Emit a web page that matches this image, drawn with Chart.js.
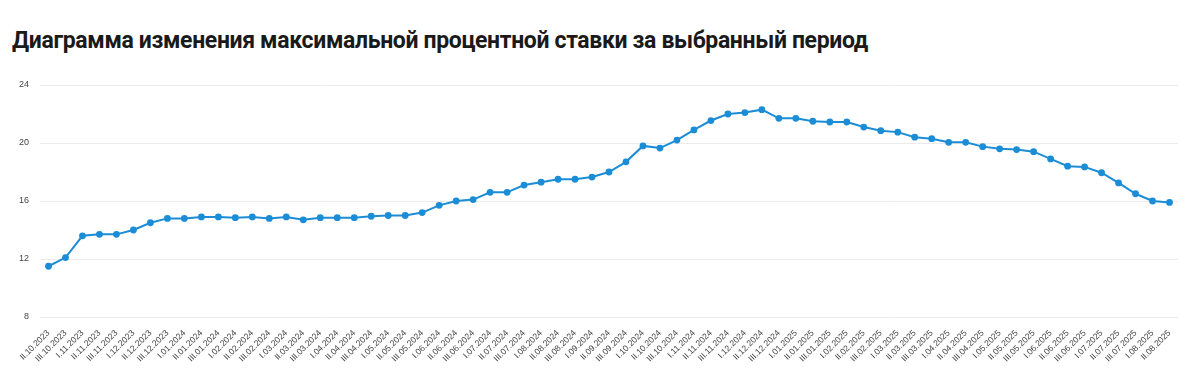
<!DOCTYPE html>
<html>
<head>
<meta charset="utf-8">
<script src="https://cdn.jsdelivr.net/npm/chart.js@4"></script>
<style>
  html, body { margin: 0; padding: 0; background: #fff; }
  body { width: 1200px; height: 377px; position: relative; overflow: hidden; }
  #title { position: absolute; left: 12px; top: 27px; font-family: Roboto, "Liberation Sans", sans-serif; font-weight: 700; font-size: 23px; color: #1a1a1a; white-space: nowrap; letter-spacing: -0.35px; }
  #wrap { position: absolute; left: 0; top: 0; width: 1200px; height: 377px; }
</style>
</head>
<body>
<div id="title">Диаграмма изменения максимальной процентной ставки за выбранный период</div>
<div id="wrap"><canvas id="c" width="1200" height="377"></canvas></div>
<script>
const categories = [
  "II.10.2023","III.10.2023","I.11.2023","II.11.2023","III.11.2023","I.12.2023","II.12.2023","III.12.2023",
  "I.01.2024","II.01.2024","III.01.2024","I.02.2024","II.02.2024","III.02.2024","I.03.2024","II.03.2024","III.03.2024",
  "I.04.2024","II.04.2024","III.04.2024","I.05.2024","II.05.2024","III.05.2024","I.06.2024","II.06.2024","III.06.2024",
  "I.07.2024","II.07.2024","III.07.2024","I.08.2024","II.08.2024","III.08.2024","I.09.2024","II.09.2024","III.09.2024",
  "I.10.2024","II.10.2024","III.10.2024","I.11.2024","II.11.2024","III.11.2024","I.12.2024","II.12.2024","III.12.2024",
  "I.01.2025","II.01.2025","III.01.2025","I.02.2025","II.02.2025","III.02.2025","I.03.2025","II.03.2025","III.03.2025",
  "I.04.2025","II.04.2025","III.04.2025","I.05.2025","II.05.2025","III.05.2025","I.06.2025","II.06.2025","III.06.2025",
  "I.07.2025","II.07.2025","III.07.2025","I.08.2025","II.08.2025"
];
const maxRate = [
  11.5, 12.1, 13.6, 13.7, 13.7, 14.0, 14.5, 14.8,
  14.8, 14.9, 14.9, 14.85, 14.9, 14.8, 14.9, 14.7, 14.85,
  14.85, 14.85, 14.95, 15.0, 15.0, 15.2, 15.7, 16.0, 16.1,
  16.6, 16.6, 17.1, 17.3, 17.5, 17.5, 17.65, 18.0, 18.7,
  19.8, 19.65, 20.2, 20.9, 21.55, 22.0, 22.1, 22.3, 21.7,
  21.7, 21.5, 21.45, 21.45, 21.1, 20.85, 20.75, 20.4, 20.3,
  20.05, 20.05, 19.75, 19.6, 19.55, 19.4, 18.9, 18.4, 18.35,
  17.95, 17.25, 16.5, 16.0, 15.9
];
const yTicks = [8, 12, 16, 20, 24];

new Chart(document.getElementById('c'), {
  type: 'line',
  data: {
    labels: categories,
    datasets: [{
      data: maxRate,
      borderColor: '#1a8dd6',
      backgroundColor: '#1a8dd6',
      borderWidth: 2,
      pointRadius: 3.4,
      pointHoverRadius: 4,
      pointBackgroundColor: '#1a8dd6',
      pointBorderWidth: 0,
      tension: 0,
      fill: false
    }]
  },
  options: {
    responsive: false,
    animation: false,
    layout: { padding: { left: 0, right: 22, top: 85, bottom: 0 } },
    plugins: { legend: { display: false }, title: { display: false }, tooltip: { enabled: false } },
    scales: {
      x: {
        offset: true,
        grid: { display: false },
        border: { display: false },
        afterFit: (axis) => { axis.height = 60; axis.paddingLeft = 0; axis.paddingRight = 0; },
        ticks: {
          autoSkip: false, maxRotation: 45, minRotation: 45,
          color: '#444', padding: 3,
          font: { family: '"Liberation Sans", Arial, sans-serif', size: 8.6 }
        }
      },
      y: {
        min: yTicks[0], max: yTicks[yTicks.length - 1],
        afterBuildTicks: (axis) => { axis.ticks = yTicks.map(v => ({ value: v })); },
        afterFit: (axis) => { axis.width = 40; },
        grid: { color: '#ebebeb', drawTicks: false, lineWidth: 1 },
        border: { display: false },
        ticks: {
          color: '#444', padding: 11,
          font: { family: '"Liberation Sans", Arial, sans-serif', size: 9 }
        }
      }
    }
  }
});
</script>
</body>
</html>
